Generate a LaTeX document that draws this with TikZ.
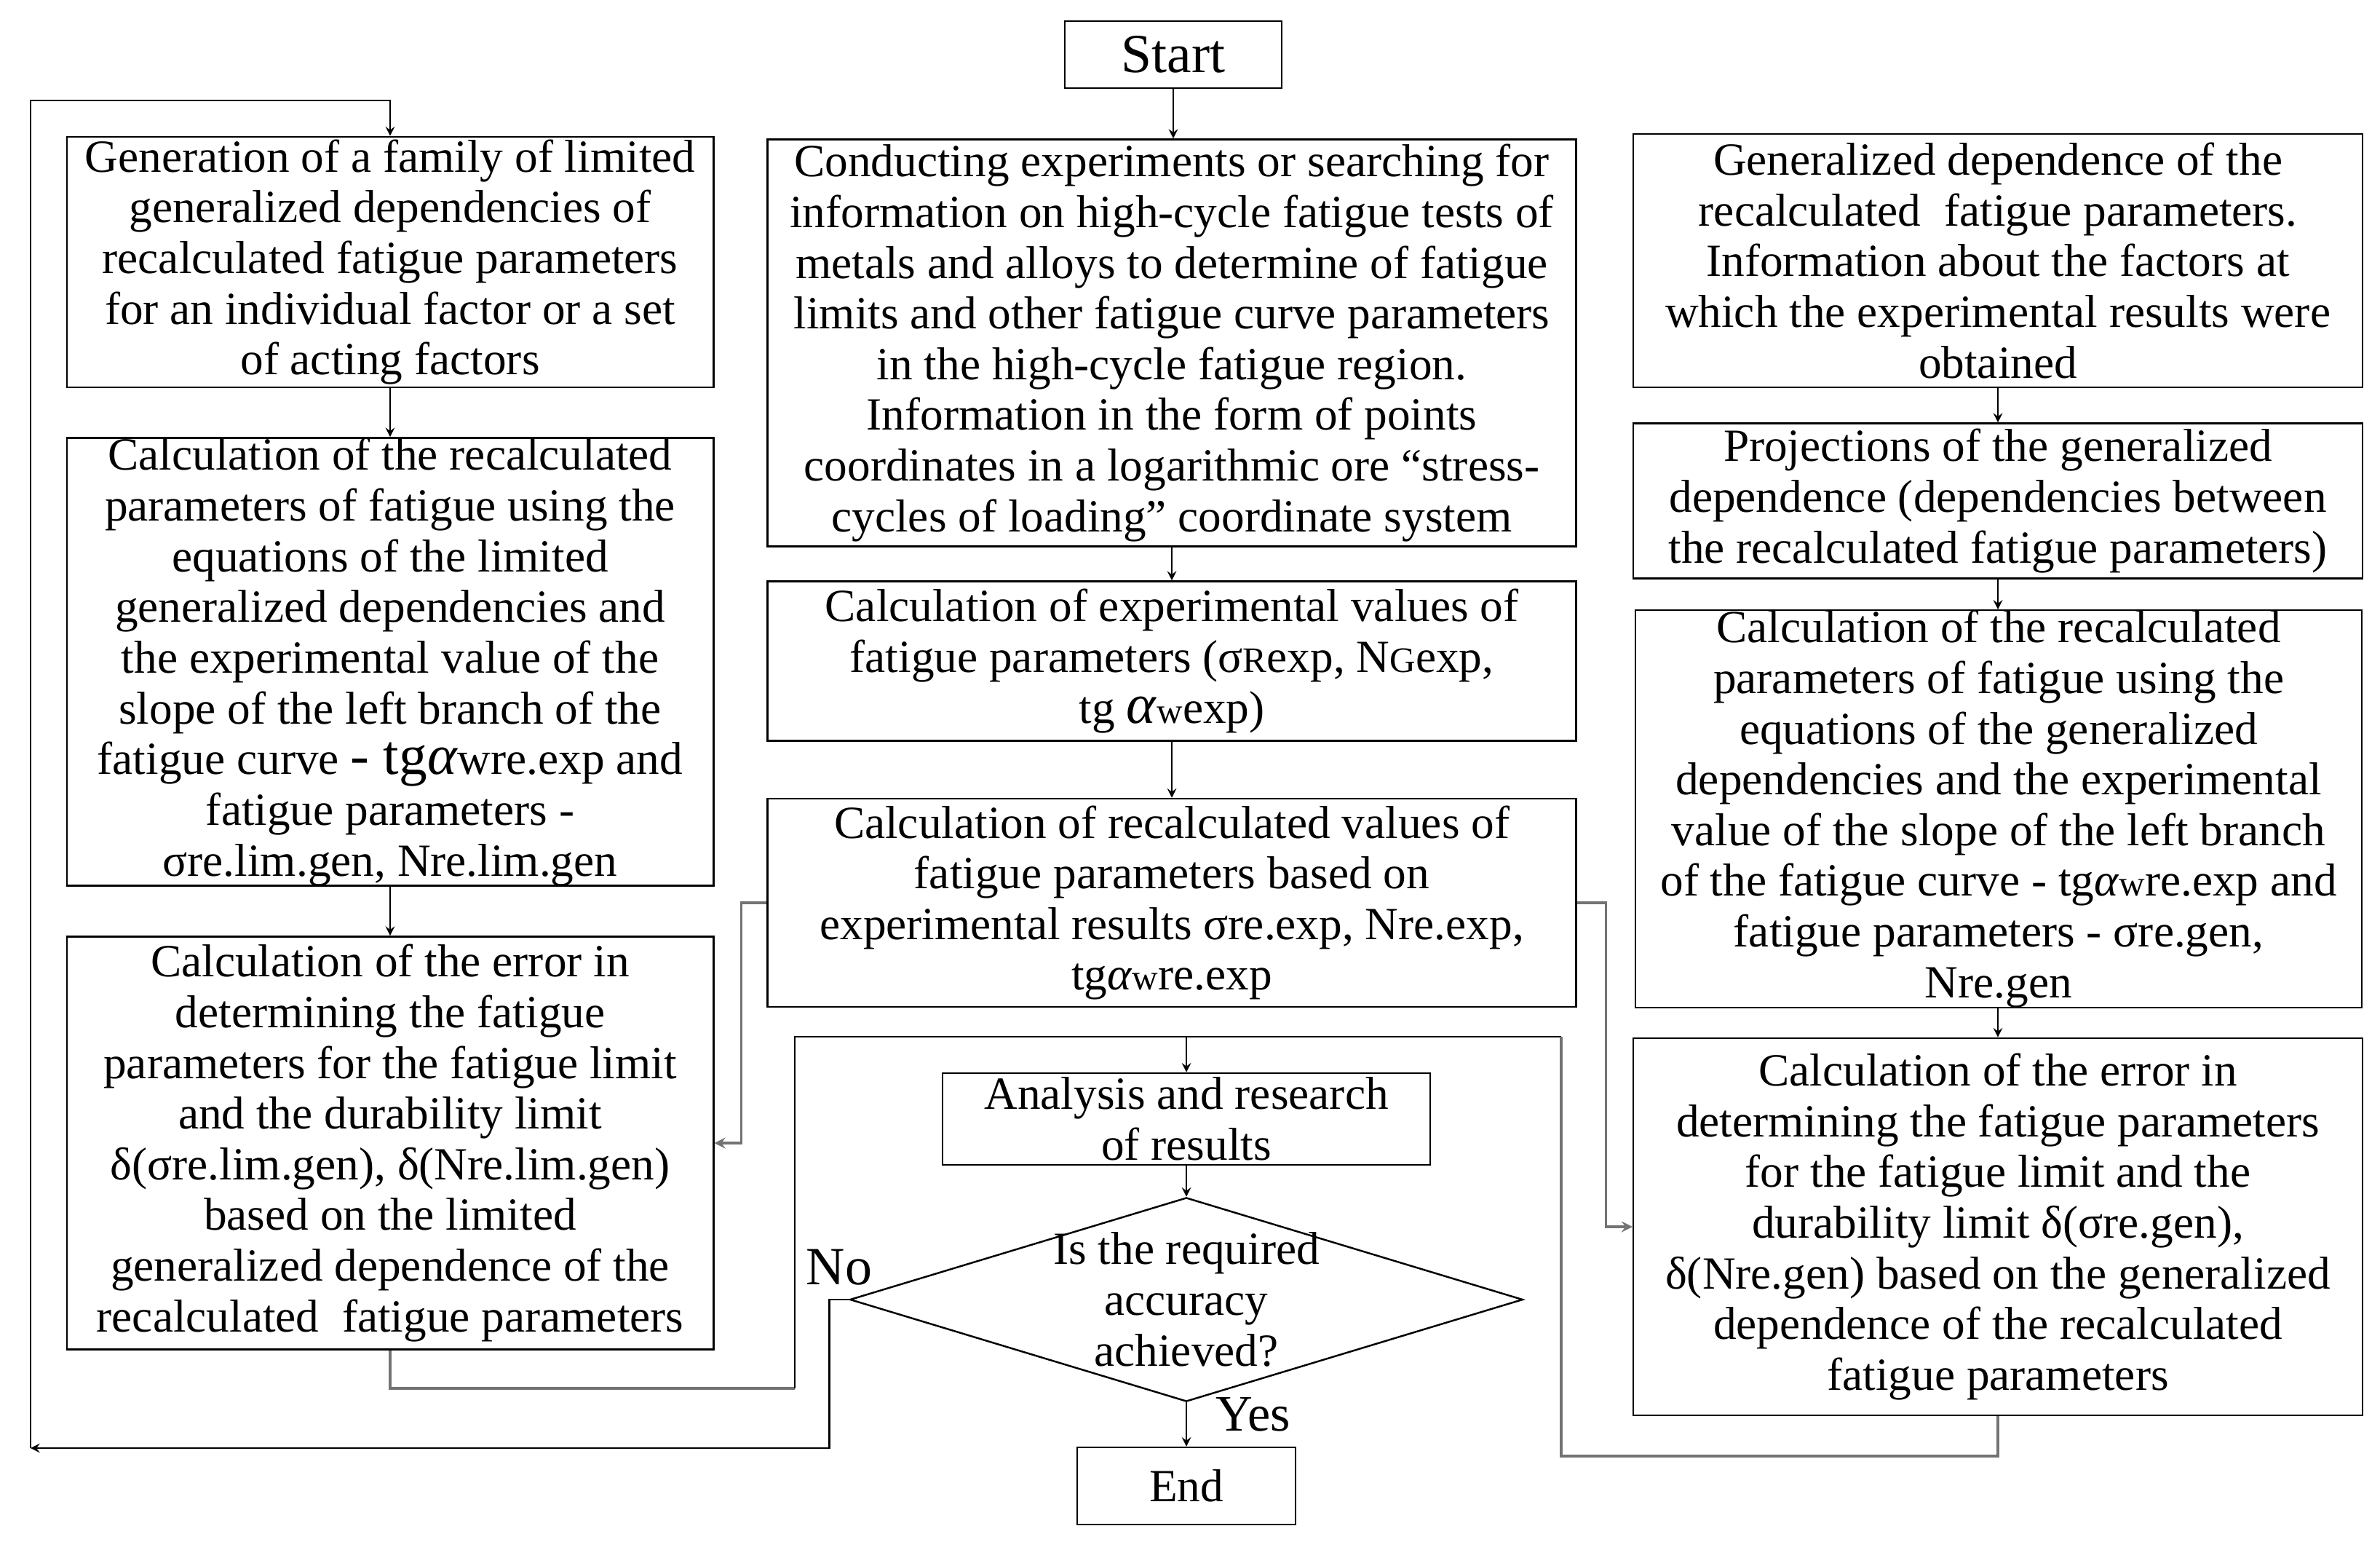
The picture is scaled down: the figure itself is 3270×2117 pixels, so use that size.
\documentclass[tikz,border=0pt]{standalone}
\usepackage{fontspec}
\setmainfont{Liberation Serif}
\usetikzlibrary{shapes.geometric}
\newcommand{\smtxt}[1]{{\fontsize{14}{19.8}\selectfont #1}}
\newcommand{\bigtxt}[1]{{\fontsize{22}{19.8}\selectfont #1}}

\begin{document}
\begin{tikzpicture}[x=0.01cm, y=-0.01cm, font=\fontsize{18}{19.8}\selectfont] % one unit = one pixel of the sketch
    \tikzstyle{block}=[draw, rectangle, align=center, inner sep=0pt, line width=0.7pt]
    \tikzstyle{arrow}=[-stealth, line width=0.6pt]
    \tikzstyle{grayline}=[draw=black!55, line width=0.9pt]
    \useasboundingbox (0,0) rectangle (3270,2117);

    % middle column
    \node[block, minimum width=2.98cm, minimum height=0.92cm, font=\fontsize{21.5}{22}\selectfont] (start) at (1612,75) {Start};
    \node[block, minimum width=11.1cm, minimum height=5.59cm] (conduct) at (1610,471) {Conducting experiments or searching for\\information on high-cycle fatigue tests of\\metals and alloys to determine of fatigue\\limits and other fatigue curve parameters\\in the high-cycle fatigue region.\\Information in the form of points\\coordinates in a logarithmic ore “stress-\\cycles of loading” coordinate system};
    \node[block, minimum width=11.1cm, minimum height=2.19cm] (expval) at (1610,908) {Calculation of experimental values of\\fatigue parameters (σ\smtxt{R}exp, N\smtxt{G}exp,\\tg \bigtxt{\textit{α}}\smtxt{w}exp)};
    \node[block, minimum width=11.1cm, minimum height=2.86cm] (recalc) at (1610,1240) {Calculation of recalculated values of\\fatigue parameters based on\\experimental results σre.exp, Nre.exp,\\tg\textit{α}\smtxt{w}re.exp};
    \node[block, minimum width=6.7cm, minimum height=1.26cm] (analysis) at (1630,1537) {Analysis and research\\of results};
    \node[draw, diamond, minimum width=9.24cm, minimum height=2.8cm, inner sep=0pt, line width=0.7pt] (check) at (1630,1785) {};
    \node[align=center] (checktext) at (check) {Is the required\\accuracy\\achieved?};
    \node[block, minimum width=3cm, minimum height=1.06cm] (finish) at (1630,2041) {End};
    \node[font=\fontsize{21}{22}\selectfont] (nolabel) at (1153,1741) {No};
    \node[font=\fontsize{20}{22}\selectfont] (yeslabel) at (1722,1943) {Yes};

    % left column
    \node[block, minimum width=8.88cm, minimum height=3.44cm] (genL) at (536,360) {Generation of a family of limited\\generalized dependencies of\\recalculated fatigue parameters\\for an individual factor or a set\\of acting factors};
    \node[block, minimum width=8.88cm, minimum height=6.13cm] (calcL) at (536,909) {Calculation of the recalculated\\parameters of fatigue using the\\equations of the limited\\generalized dependencies and\\the experimental value of the\\slope of the left branch of the\\fatigue curve \bigtxt{- tg\textit{α}}wre.exp and\\fatigue parameters -\\σre.lim.gen, Nre.lim.gen};
    \node[block, minimum width=8.88cm, minimum height=5.67cm] (errL) at (536,1570) {Calculation of the error in\\determining the fatigue\\parameters for the fatigue limit\\and the durability limit\\δ(σre.lim.gen), δ(Nre.lim.gen)\\based on the limited\\generalized dependence of the\\recalculated\ \ fatigue parameters};

    % right column
    \node[block, minimum width=10.01cm, minimum height=3.48cm] (genR) at (2745,358) {Generalized dependence of the\\recalculated\ \ fatigue parameters.\\Information about the factors at\\which the experimental results were\\obtained};
    \node[block, minimum width=10.01cm, minimum height=2.13cm] (proj) at (2745,688) {Projections of the generalized\\dependence (dependencies between\\the recalculated fatigue parameters)};
    \node[block, minimum width=9.97cm, minimum height=5.43cm] (calcR) at (2746,1111) {Calculation of the recalculated\\parameters of fatigue using the\\equations of the generalized\\dependencies and the experimental\\value of the slope of the left branch\\of the fatigue curve - tg\textit{α}\smtxt{w}re.exp and\\fatigue parameters - σre.gen,\\Nre.gen};
    \node[block, minimum width=10.01cm, minimum height=5.18cm] (errR) at (2745,1685) {Calculation of the error in\\determining the fatigue parameters\\for the fatigue limit and the\\durability limit δ(σre.gen),\\δ(Nre.gen) based on the generalized\\dependence of the recalculated\\fatigue parameters};

    % corners of the loops
    \coordinate (back) at (42,1989);
    \coordinate (top) at (42,138);
    \coordinate (loopSW) at (1092,1907);
    \coordinate (loopNW) at (1092,1424);
    \coordinate (loopNE) at (2145,1424);
    \coordinate (loopSE) at (2145,2000);
    \coordinate (merge) at (1630,1424);

    % connectors
    \draw[arrow] (start) -- (start |- conduct.north);
    \draw[arrow] (conduct) -- (conduct |- expval.north);
    \draw[arrow] (expval) -- (expval |- recalc.north);
    \draw[arrow] (genL) -- (calcL);
    \draw[arrow] (calcL) -- (errL);
    \draw[arrow] (genR) -- (proj);
    \draw[arrow] (proj) -- (proj |- calcR.north);
    \draw[arrow] (calcR.south -| errR) -- (errR);
    \draw[arrow, grayline] (recalc.west) -- ++(-35,0) |- (errL.east);
    \draw[arrow, grayline] (recalc.east) -- ++(40,0) |- (errR.west);
    \draw[grayline] (errL.south) |- (loopSW);
    \draw[line width=0.6pt] (loopSW) -- (loopNW) -- (loopNE);
    \draw[grayline] (loopNE) -- (loopSE) -| (errR.south);
    \draw[arrow] (merge) -- (analysis.north);
    \draw[arrow] (analysis) -- (check.north);
    \draw[arrow] (check.south) -- (finish.north);
    \draw[arrow] (check.west) -- ++(-27,0) |- (back);
    \draw[arrow] (back) -- (top) -| (genL.north);
\end{tikzpicture}
\end{document}
